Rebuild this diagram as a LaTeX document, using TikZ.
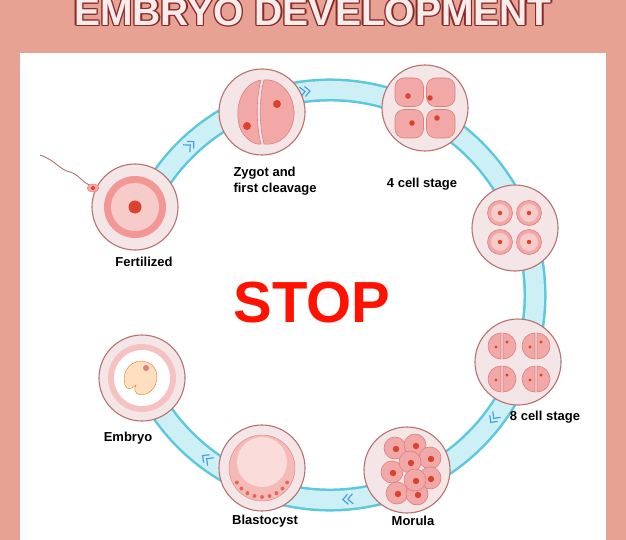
\documentclass[tikz,border=0pt]{standalone}
\usepackage{fontspec}
\setmainfont{Liberation Sans}
\begin{document}
\definecolor{bg}{HTML}{E8A294}
\definecolor{ring}{HTML}{5CC8DC}
\definecolor{ringin}{HTML}{CDEFF6}
\definecolor{shell}{HTML}{F4E6E6}
\definecolor{shelld}{HTML}{B87070}
\definecolor{cellp}{HTML}{F2A8A6}
\definecolor{celld}{HTML}{D98080}
\definecolor{nuc}{HTML}{D9432E}
\definecolor{tdark}{HTML}{8A2A28}
\begin{tikzpicture}[x=1pt,y=-1pt,
  shellst/.style={circle,draw=shelld,line width=1.1pt,fill=shell,minimum size=86pt,inner sep=0pt},
  lab/.style={font=\bfseries\fontsize{13}{15.5}\selectfont,align=left},
  blob/.style={fill=cellp,draw=celld,line width=0.6pt},
  dot/.style={fill=nuc,draw=none},
  chev/.style={draw=ring!80!blue,line width=1.2pt}]
\fill[bg] (0,0) rectangle (626,540);
\fill[white] (20,53) rectangle (606,540);
\useasboundingbox (0,0) rectangle (626,540);
% title
\foreach \dx/\dy in {1.3/0,-1.3/0,0/1.3,0/-1.3,1/1,-1/1,1/-1,-1/-1}
  \node[text=tdark,font=\bfseries\fontsize{39}{39}\selectfont] at (313+\dx,12+\dy) {EMBRYO DEVELOPMENT};
\node[text=white!80!bg,font=\bfseries\fontsize{39}{39}\selectfont] (title) at (313,12) {EMBRYO DEVELOPMENT};
% ring
\draw[ring,line width=23pt] (330,295) ++(-155:205) arc[start angle=-155,end angle=157,radius=205];
\draw[ringin,line width=18pt] (330,295) ++(-155:205) arc[start angle=-155,end angle=157,radius=205];
% chevrons
\foreach \a in {-127,-85,-37,10,59,97,133}{
  \begin{scope}[shift={(330,295)},rotate=\a]
    \draw[chev] (200,-5) -- (205,0) -- (210,-5);
    \draw[chev] (200,0) -- (205,5) -- (210,0);
  \end{scope}}
% STOP
\node[text=red!85!orange,font=\bfseries\fontsize{58}{58}\selectfont] (stop) at (312,303) {STOP};
% Fertilized
\draw[shelld,line width=0.9pt] (40,155) .. controls (55,160) and (60,170) .. (70,172) .. controls (80,175) and (82,183) .. (92,186);
\node[shellst] (fert) at (135,207) {};
\fill[fill=cellp,draw=celld] (93,188) ellipse (6 and 4);
\fill[nuc] (93,188) circle (2);
\fill[cellp!90!red] (135,207) circle (31);
\fill[cellp!60!white] (135,207) circle (24);
\fill[nuc] (135,207) circle (6.5);
\node[lab] (lfert) at (144,262) {Fertilized};
% Zygot
\node[shellst] (zyg) at (262,112) {};
\path[blob] (261,80) .. controls (240,84) and (234,110) .. (240,128) .. controls (245,140) and (255,145) .. (261,144) .. controls (256,125) and (256,98) .. (261,80);
\path[blob] (264,80) .. controls (280,78) and (295,95) .. (294,115) .. controls (293,133) and (280,146) .. (264,144) .. controls (259,125) and (259,98) .. (264,80);
\fill[nuc] (247,126) circle (4); \fill[nuc] (277,104) circle (4);
\node[lab,anchor=west] (lzyg) at (230,181) {Zygot and\\first cleavage};
% 4 cell
\node[shellst] (c4) at (425,108) {};
\foreach \sx/\sy in {-1/-1,1/-1,-1/1,1/1}
  \path[blob,rounded corners=9pt] (425+\sx*1.5,108+\sy*1.5) rectangle (425+\sx*30,108+\sy*30);
\foreach \px/\py in {408/96,430/98,412/123,437/118} \fill[nuc] (\px,\py) circle (2.8);
\node[lab] (l4) at (422,184) {4 cell stage};
% right 4 circles
\node[shellst] (c4b) at (515,228) {};
\foreach \px/\py in {500/213,529/213,500/242,529/242}{
  \path[blob] (\px,\py) circle (12.5);
  \fill[cellp!60!white] (\px,\py) circle (9);
  \fill[nuc] (\px,\py) circle (2.2);}
% 8 cell
\node[shellst] (c8) at (518,362) {};
\foreach \px/\py in {502/346,536/346,502/379,536/379}{
  \path[blob] (\px-1,\py-13) arc[start angle=-90,end angle=-270,radius=13] -- cycle;
  \path[blob] (\px+1,\py-13) arc[start angle=-90,end angle=90,radius=13] -- cycle;
  \fill[nuc] (\px-6,\py+1) circle (1.7); \fill[nuc] (\px+5,\py-4) circle (1.7);}
\node[lab] (l8) at (545,417) {8 cell stage};
% Morula
\node[shellst] (mor) at (407,470) {};
\foreach \px/\py in {395/448,415/445,430/458,392/472,430/478,397/493,417/494,410/462,415/480}{
  \path[blob] (\px,\py) circle (11);
  \fill[nuc] (\px+1,\py+1) circle (3.2);}
\node[lab] (lmor) at (413,521) {Morula};
% Blastocyst
\node[shellst] (bla) at (262,468) {};
\fill[cellp!80!white,draw=celld] (262,468) circle (33);
\fill[cellp!40!white] (262,462) circle (25);
\foreach \a in {30,45,60,75,90,105,120,135,150}
  \fill[nuc!80!white] (262,468) ++(\a:29) circle (2);
\node[lab] (lbla) at (265,521) {Blastocyst};
% Embryo
\node[shellst] (emb) at (142,378) {};
\fill[cellp!70!white] (142,378) circle (34);
\fill[white] (142,378) circle (28);
\path[fill=orange!25!white,draw=orange!60!brown] (125,385) .. controls (120,365) and (140,355) .. (152,365) .. controls (160,372) and (158,388) .. (148,393) .. controls (138,398) and (132,392) .. (136,385) .. controls (130,390) and (127,390) .. (125,385);
\fill[celld] (146,368) circle (3);
\node[lab] (lemb) at (128,438) {Embryo};
\end{tikzpicture}
\end{document}
